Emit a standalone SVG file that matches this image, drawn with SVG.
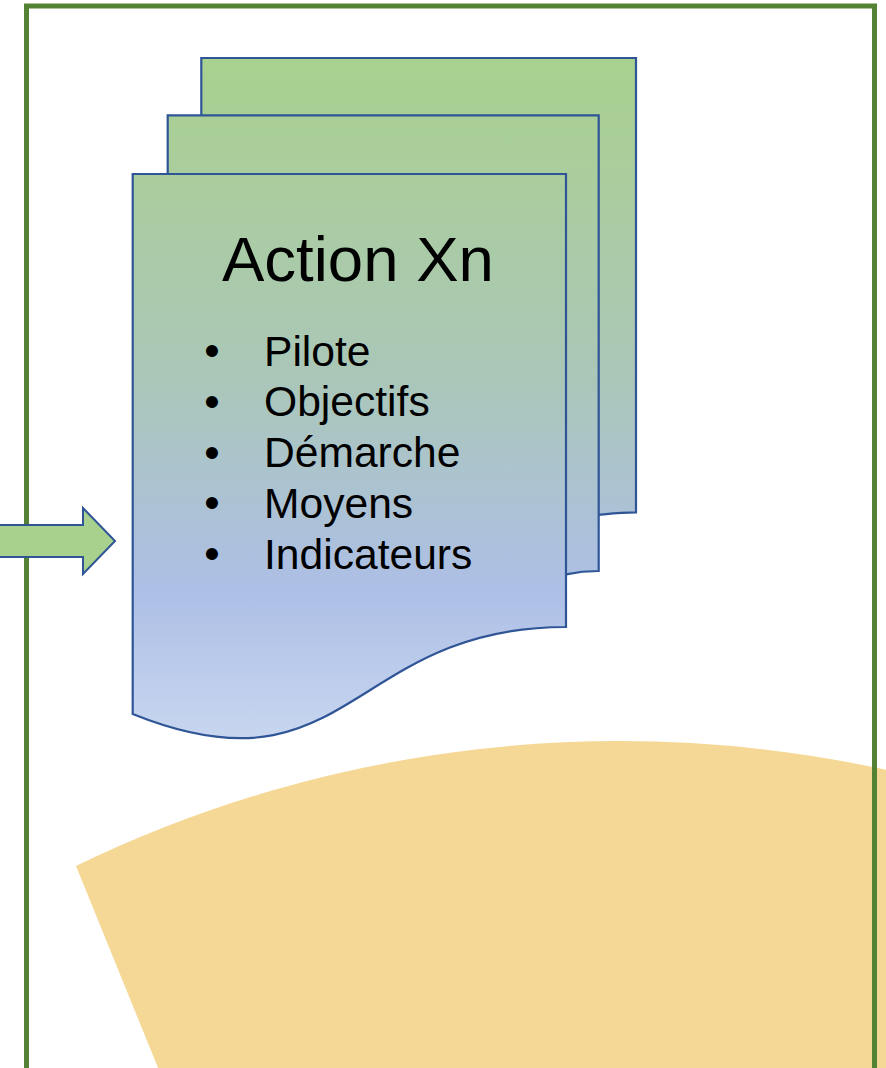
<svg xmlns="http://www.w3.org/2000/svg" width="886" height="1068" viewBox="0 0 886 1068">
  <defs>
    <linearGradient id="docFill" gradientUnits="userSpaceOnUse" x1="0" y1="58" x2="0" y2="740">
      <stop offset="0" stop-color="#A9D18E"/>
      <stop offset="0.45" stop-color="#AAC7B6"/>
      <stop offset="0.78" stop-color="#ADBFE6"/>
      <stop offset="1" stop-color="#C8D6EF"/>
    </linearGradient>
    <style>
      .doc { fill: url(#docFill); stroke: #2F5597; stroke-width: 2.2; stroke-linejoin: miter; }
      .frame { fill: none; stroke: #548235; stroke-width: 5; }
      .title { font-family: "Liberation Sans", Arial, sans-serif; font-size: 63.5px; fill: #000; }
      .item { font-family: "Liberation Sans", Arial, sans-serif; font-size: 42.6px; fill: #000; }
      .bullet { font-family: "Liberation Sans", Arial, sans-serif; font-size: 44px; fill: #000; text-anchor: middle; }
    </style>
  </defs>

  <rect width="886" height="1068" fill="#FFFFFF"/>

  <!-- large yellow sector at the bottom -->
  <g id="sector">
    <path d="M76,866 A1246,1246 0 0 1 900,773 L900,1080 L163,1080 Z" fill="#F5D895"/>
  </g>

  <!-- green frame -->
  <g id="frame">
    <rect class="frame" x="26.5" y="6" width="848" height="1100"/>
  </g>

  <!-- incoming arrow -->
  <g id="connectors">
    <polygon points="-5,525 83,525 83,508 115,541 83,574 83,557 -5,557" fill="#A9D18E" stroke="#2F5597" stroke-width="2" stroke-linejoin="miter"/>
  </g>

  <!-- stacked action sheets -->
  <g id="action-xn">
    <path class="doc" d="M201.3,58 H636 V512.4 C620,512.4 605,514.3 598.7,514.8 L201.3,514.8 Z"/>
    <path class="doc" d="M167.7,115.3 H598.7 V571 C582.3,571 566,574.3 566,574.3 L167.7,574.3 Z"/>
    <path class="doc" d="M132.7,174 H566 V627 C349,627 349,801 132.7,714 Z"/>

    <text class="title" x="222" y="281">Action Xn</text>

    <text class="bullet" x="212" y="366">•</text>
    <text class="item" x="264" y="365.5">Pilote</text>
    <text class="bullet" x="212" y="416.8">•</text>
    <text class="item" x="264" y="416.3">Objectifs</text>
    <text class="bullet" x="212" y="467.5">•</text>
    <text class="item" x="264" y="467">Démarche</text>
    <text class="bullet" x="212" y="518.3">•</text>
    <text class="item" x="264" y="517.8">Moyens</text>
    <text class="bullet" x="212" y="569">•</text>
    <text class="item" x="264" y="568.5">Indicateurs</text>
  </g>
</svg>
